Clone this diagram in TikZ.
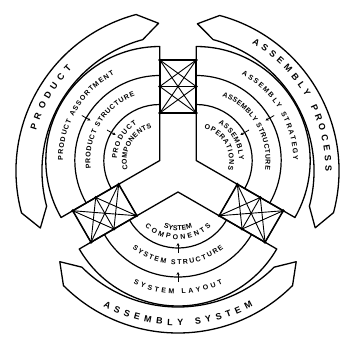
\documentclass[tikz,border=0pt]{standalone}
\usepackage{fontspec}
\setmainfont{Liberation Sans}
\usetikzlibrary{decorations.text,arrows.meta}
\newcommand\mysecfont{\fontsize{7}{8}\selectfont\bfseries}
\newcommand\mybandfont{\fontsize{9}{10}\selectfont\bfseries}
\newcommand\myarctext[6]{%
  \path[decorate,decoration={text along path,text align={fit to path},text={|#5|#6}}]
    ([shift={(#3:#2)}]#1) arc[start angle=#3,end angle=#4,radius=#2];}
\begin{document}
\begin{tikzpicture}[x=1pt,y=1pt,line join=round,
  outline/.style={draw=black,line width=1.3pt},
  arcline/.style={draw=black,line width=1.2pt},
  mesh/.style={draw=black,line width=0.9pt},
  tickarrow/.style={draw=black,line width=0.8pt,-{Stealth[length=3pt,width=3pt]}}]
\fill[white] (-178,-171) rectangle (164,171);
\useasboundingbox (-178,-171) rectangle (164,171);
\coordinate (C) at (0,0);
\coordinate (AL) at (150:21pt);
\coordinate (AR) at (30:21pt);
\coordinate (AB) at (270:21pt);

% outer bands
\draw[outline] (195:162pt) -- (202.5:149pt) -- (195:136pt) arc[start angle=195,end angle=105,radius=136pt]
  -- (97.5:149pt) -- (105:162pt) arc[start angle=105,end angle=195,radius=162pt] -- cycle;
\draw[outline] (75:161pt) -- (82.5:148.5pt) -- (75:136pt) arc[start angle=75,end angle=-15,radius=136pt]
  -- (-22.5:148.5pt) -- (-15:161pt) arc[start angle=-15,end angle=75,radius=161pt] -- cycle;
\draw[outline] (315:162pt) -- (322.5:149pt) -- (315:136pt) arc[start angle=315,end angle=225,radius=136pt]
  -- (217.5:149pt) -- (225:162pt) arc[start angle=225,end angle=315,radius=162pt] -- cycle;

% sectors
\draw[outline] (AL) -- ++(90:114pt) arc[start angle=90,end angle=210,radius=114pt] -- cycle;
\draw[outline] (AR) -- ++(90:114pt) arc[start angle=90,end angle=-30,radius=114pt] -- cycle;
\draw[outline] (AB) -- ++(210:114pt) arc[start angle=210,end angle=330,radius=114pt] -- cycle;
\foreach \r in {85,56}{
  \draw[arcline] ([shift={(90:\r pt)}]AL) arc[start angle=90,end angle=210,radius=\r pt];
  \draw[arcline] ([shift={(90:\r pt)}]AR) arc[start angle=90,end angle=-30,radius=\r pt];
  \draw[arcline] ([shift={(210:\r pt)}]AB) arc[start angle=210,end angle=330,radius=\r pt];
}
% level arrows
\foreach \ap/\a in {AL/150,AR/30,AB/270}{
  \draw[tickarrow] ([shift={(\a:90pt)}]\ap) -- ([shift={(\a:80pt)}]\ap);
  \draw[tickarrow] ([shift={(\a:61pt)}]\ap) -- ([shift={(\a:51pt)}]\ap);
}

% interface meshes
\foreach \rot/\nm in {0/T,120/L,240/R}{
  \begin{scope}[rotate=\rot]
    \coordinate (\nm a1) at (-18.2,58);
    \coordinate (\nm a2) at (-18.2,84.5);
    \coordinate (\nm a3) at (-18.2,111);
    \coordinate (\nm b1) at (18.2,58);
    \coordinate (\nm b2) at (18.2,84.5);
    \coordinate (\nm b3) at (18.2,111);
  \end{scope}
  \foreach \i in {1,2,3}{\foreach \j in {1,2,3}{\draw[mesh] (\nm a\i) -- (\nm b\j);}}
  \draw[outline,line width=1.5pt] (\nm a1) -- (\nm a3) -- (\nm b3) -- (\nm b1) -- cycle;
  \foreach \p in {a1,a2,a3,b1,b2,b3}{\fill (\nm\p) circle[radius=1.6pt];}
}

% sector texts
\myarctext{AL}{97pt}{180}{118}{\mysecfont}{PRODUCT ASSORTMENT}
\myarctext{AL}{69.5pt}{187}{111}{\mysecfont}{PRODUCT STRUCTURE}
\myarctext{AL}{43pt}{178}{122}{\mysecfont}{PRODUCT}
\myarctext{AL}{33pt}{196}{104}{\mysecfont}{COMPONENTS}

\myarctext{AR}{97pt}{62}{0}{\mysecfont}{ASSEMBLY STRATEGY}
\myarctext{AR}{69.5pt}{68}{-8}{\mysecfont}{ASSEMBLY STRUCTURE}
\myarctext{AR}{43pt}{59}{1}{\mysecfont}{ASSEMBLY}
\myarctext{AR}{33pt}{76}{-16}{\mysecfont}{OPERATIONS}

\myarctext{AB}{102pt}{244}{296}{\mysecfont}{SYSTEM LAYOUT}
\myarctext{AB}{72.5pt}{231}{309}{\mysecfont}{SYSTEM STRUCTURE}
\myarctext{AB}{38.5pt}{248}{292}{\mysecfont}{SYSTEM}
\myarctext{AB}{47.5pt}{226}{314}{\mysecfont}{COMPONENTS}

% band texts
\myarctext{C}{147.5pt}{164}{136}{\mybandfont}{PRODUCT}
\myarctext{C}{147.5pt}{60}{0}{\mybandfont}{ASSEMBLY PROCESS}
\myarctext{C}{154.5pt}{241}{299}{\mybandfont}{ASSEMBLY SYSTEM}
\end{tikzpicture}
\end{document}
